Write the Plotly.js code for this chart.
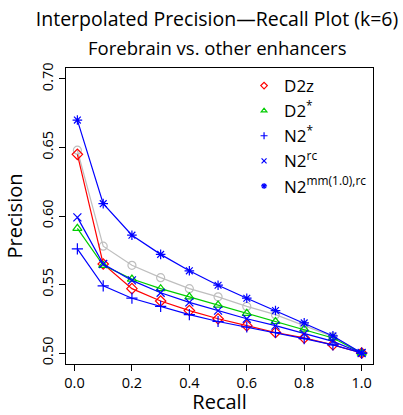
<!DOCTYPE html>
<html><head><meta charset="utf-8">
<script src="https://cdn.plot.ly/plotly-3.0.1.min.js"></script>
<style>html,body{margin:0;padding:0;background:#fff}#chart{width:403px;height:415px}</style>
</head><body><div id="chart"></div>
<script>
const recall = [0.01, 0.1, 0.2, 0.3, 0.4, 0.5, 0.6, 0.7, 0.8, 0.9, 1.0];
const gray   = [0.648, 0.578, 0.564, 0.555, 0.547, 0.541, 0.534, 0.528, 0.520, 0.512, 0.500];
const d2z    = [0.645, 0.565, 0.547, 0.538, 0.531, 0.525, 0.520, 0.515, 0.511, 0.506, 0.500];
const d2star = [0.591, 0.564, 0.554, 0.547, 0.541, 0.535, 0.529, 0.523, 0.5175, 0.511, 0.500];
const n2star = [0.576, 0.549, 0.540, 0.534, 0.528, 0.523, 0.519, 0.515, 0.5105, 0.506, 0.500];
const n2rc   = [0.599, 0.565, 0.553, 0.544, 0.537, 0.531, 0.525, 0.520, 0.514, 0.5085, 0.500];
const n2mm   = [0.670, 0.609, 0.586, 0.572, 0.560, 0.5495, 0.540, 0.531, 0.522, 0.5125, 0.500];
const names  = ["D2z", "D2<sup>*</sup>", "N2<sup>*</sup>", "N2<sup>rc</sup>", "N2<sup>mm(1.0),rc</sup>"];
const xTicks = [0, 0.2, 0.4, 0.6, 0.8, 1.0];
const yTicks = [0.50, 0.55, 0.60, 0.65, 0.70];

const series = [
  {y: gray,   color: "#bebebe", symbol: "circle-open",      name: null},
  {y: d2z,    color: "#ff0000", symbol: "diamond-open",     name: names[0]},
  {y: d2star, color: "#00cd00", symbol: "triangle-up-open", name: names[1]},
  {y: n2star, color: "#0000ff", symbol: "cross-thin-open",  name: names[2]},
  {y: n2rc,   color: "#0000ff", symbol: "x-thin-open",      name: names[3]},
  {y: n2mm,   color: "#0000ff", symbol: "asterisk-open",    name: names[4]}
];
const traces = [];
series.forEach(s => {
  traces.push({x: recall, y: s.y, type: "scatter", mode: "lines+markers", showlegend: false,
    line: {color: s.color, width: 1.2},
    marker: {symbol: s.symbol, size: 8, color: s.color, line: {color: s.color, width: 1.2}}});
});
series.filter(s => s.name).forEach(s => {
  traces.push({x: [null], y: [null], type: "scatter", mode: "markers", name: s.name, showlegend: true,
    marker: {symbol: s.symbol, size: 5, color: s.color, line: {color: s.color, width: 1.2}}});
});

const font = "Open Sans, DejaVu Sans, sans-serif";
const layout = {
  width: 403, height: 415,
  margin: {l: 66, r: 30, t: 68, b: 51},
  paper_bgcolor: "#fff", plot_bgcolor: "#fff",
  font: {family: font, color: "#000"},
  title: {text: "Interpolated Precision\u2014Recall Plot (k=6)", font: {size: 19.5, family: font},
          x: 0.492, xanchor: "center", y: 1 - 19/415, yanchor: "middle", xref: "paper"},
  annotations: [{text: "Forebrain vs. other enhancers", xref: "paper", yref: "paper",
    x: 0.495, y: 1 + (68 - 47.5) / 296, xanchor: "center", yanchor: "middle", showarrow: false,
    font: {size: 18.5, family: font}}],
  xaxis: {range: [-0.0296, 1.0396], tickvals: xTicks, ticktext: xTicks.map(v => v.toFixed(1)),
    showgrid: false, zeroline: false, showline: true, mirror: true, linecolor: "#000", linewidth: 1,
    ticks: "outside", ticklen: 6, tickcolor: "#000", tickfont: {size: 14.5},
    title: {text: "Recall", font: {size: 20}, standoff: 13}},
  yaxis: {range: [0.492, 0.708], tickvals: yTicks, ticktext: yTicks.map(v => v.toFixed(2)),
    showgrid: false, zeroline: false, showline: true, mirror: true, linecolor: "#000", linewidth: 1,
    ticks: "outside", ticklen: 6, tickcolor: "#000", tickfont: {size: 14.5}, tickangle: -90,
    title: {text: "Precision", font: {size: 20}, standoff: 10}},
  legend: {x: 0.58, y: 1.0, xanchor: "left", yanchor: "top", bgcolor: "rgba(0,0,0,0)",
    font: {size: 17, family: font}, itemwidth: 30, tracegroupgap: 0}
};
Plotly.newPlot("chart", traces, layout, {displayModeBar: false, staticPlot: true});
</script></body></html>
